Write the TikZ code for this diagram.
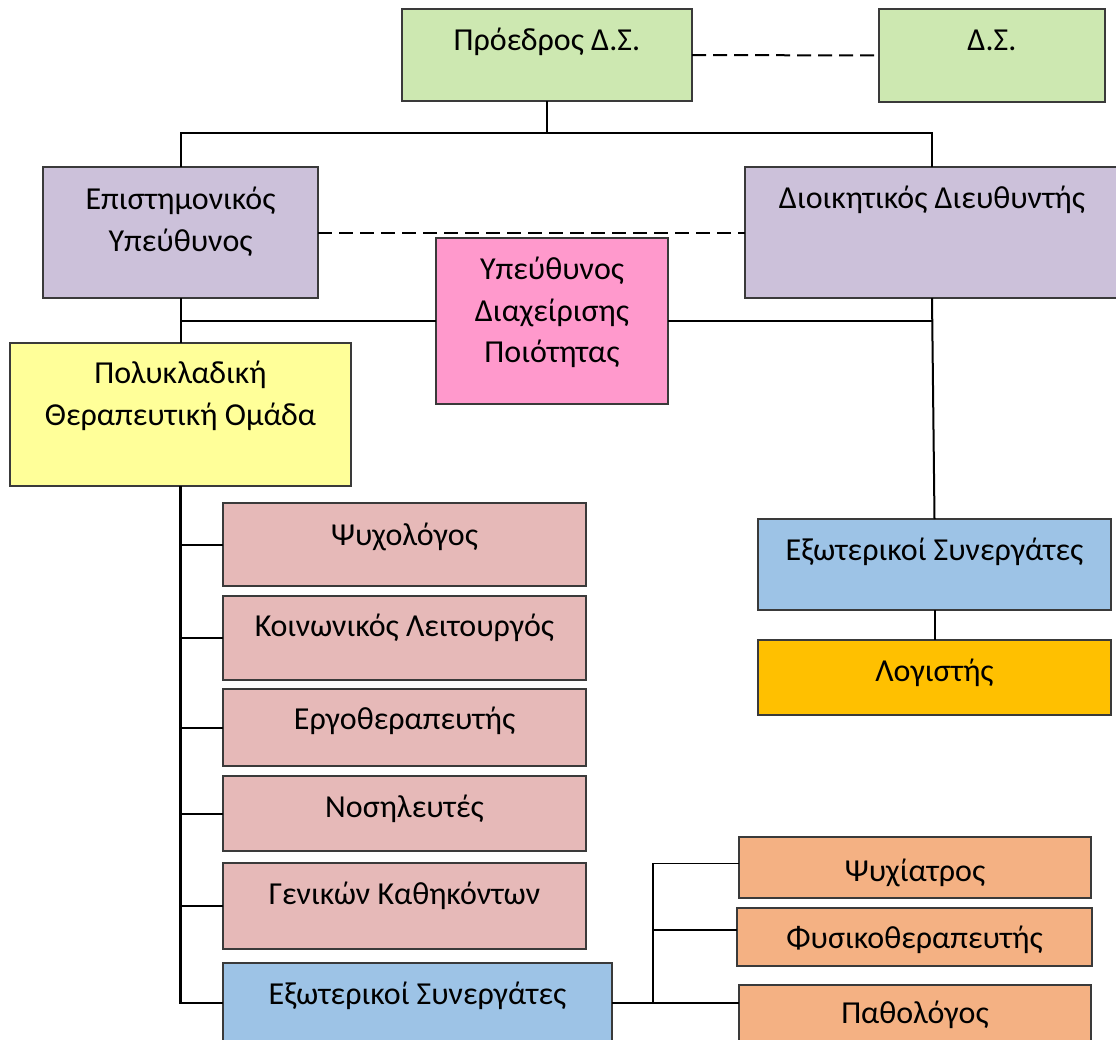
\documentclass[tikz,border=0pt]{standalone}
\usepackage{fontspec}
\setmainfont{Carlito}
\definecolor{cgreen}{HTML}{CDE8B1}
\definecolor{clav}{HTML}{CCC1DA}
\definecolor{cpink}{HTML}{FF99CC}
\definecolor{cyellow}{HTML}{FFFF99}
\definecolor{crose}{HTML}{E6B9B8}
\definecolor{cblue}{HTML}{9DC3E6}
\definecolor{cgold}{HTML}{FFC000}
\definecolor{corange}{HTML}{F4B183}
\definecolor{bordergray}{HTML}{3A3A3A}
\tikzset{
  box/.style={draw=bordergray, line width=1.3pt, anchor=north west, inner sep=0pt, outer sep=0pt},
  lbl/.style={anchor=base, inner sep=0pt, align=center, font=\fontsize{32}{41.5}\selectfont},
  conn/.style={line width=2pt, black},
  thinconn/.style={line width=1.3pt, black},
  dashline/.style={line width=2pt, black, dash pattern=on 14pt off 7pt},
}
% #7 = offset from box top to baseline of the LAST text line
\newcommand\obox[8]{%
  \node[box, fill=#6, minimum width={(#4-#2)*1pt}, minimum height={(#5-#3)*1pt}] (#1) at (#2,#3) {};
  \node[lbl] (#1-t) at ([yshift=-#7pt]#1.north) {#8};
}
\begin{document}
\begin{tikzpicture}[x=1pt,y=-1pt]
\useasboundingbox[fill=white] (0,0) rectangle (1116,1039);
\obox{pres}{402}{9}{692}{101}{cgreen}{41}{Πρόεδρος Δ.Σ.}
\obox{ds}{879}{9}{1105}{102}{cgreen}{41}{Δ.Σ.}
\obox{epist}{43}{167}{318}{298}{clav}{84}{Επιστημονικός\\Υπεύθυνος}
\obox{dioik}{745}{167}{1119}{298}{clav}{41.5}{Διοικητικός Διευθυντής}
\obox{qual}{436}{238}{668}{404}{cpink}{124.5}{Υπεύθυνος\\Διαχείρισης\\Ποιότητας}
\obox{poly}{10}{343}{351}{486}{cyellow}{82}{Πολυκλαδική\\Θεραπευτική Ομάδα}
\obox{psy}{223}{503}{586}{586}{crose}{42}{Ψυχολόγος}
\obox{koin}{223}{596}{586}{680}{crose}{40}{Κοινωνικός Λειτουργός}
\obox{ergo}{223}{689}{586}{766}{crose}{40}{Εργοθεραπευτής}
\obox{nos}{223}{776}{586}{851}{crose}{41}{Νοσηλευτές}
\obox{gen}{223}{863}{586}{949}{crose}{41}{Γενικών Καθηκόντων}
\obox{ext2}{223}{963}{612}{1043}{cblue}{41}{Εξωτερικοί Συνεργάτες}
\obox{psych}{739}{837}{1091}{898}{corange}{44}{Ψυχίατρος}
\obox{physio}{737}{908}{1092}{966}{corange}{40}{Φυσικοθεραπευτής}
\obox{path}{739}{985}{1091}{1060}{corange}{38}{Παθολόγος}
\obox{ext1}{758}{519}{1111}{610}{cblue}{41}{Εξωτερικοί Συνεργάτες}
\obox{acc}{758}{640}{1111}{715}{cgold}{41.5}{Λογιστής}
\coordinate (top) at (547,133);
\coordinate (sp) at (653,0);
\draw[conn] (pres.south) -- (top);
\draw[conn] (epist.north) |- (top) -| (dioik.north);
\draw[dashline] (pres.east) -- (ds.west);
\draw[dashline] (epist.east) -- (dioik.west);
\draw[conn] (epist.south) -- (poly.north);
\draw[conn] (qual.west) -- (qual.west -| epist.south);
\draw[conn] (qual.east) -- (qual.east -| dioik.south);
\draw[conn] (dioik.south) -- (ext1.north);
\draw[conn] (ext1.south) -- (acc.north);
\draw[line width=2.5pt] (poly.south) |- (ext2.west);
\foreach \n in {psy,koin,ergo,nos,gen} \draw[conn] (\n.west) -- (\n.west -| poly.south);
\draw[thinconn] (ext2.east) -- (ext2.east -| path.west);
\draw[thinconn] ([yshift=4pt]psych.west) -| (sp |- ext2.east);
\draw[thinconn] ([yshift=7pt]physio.west) -- ([yshift=7pt]physio.west -| sp);
\end{tikzpicture}
\end{document}
